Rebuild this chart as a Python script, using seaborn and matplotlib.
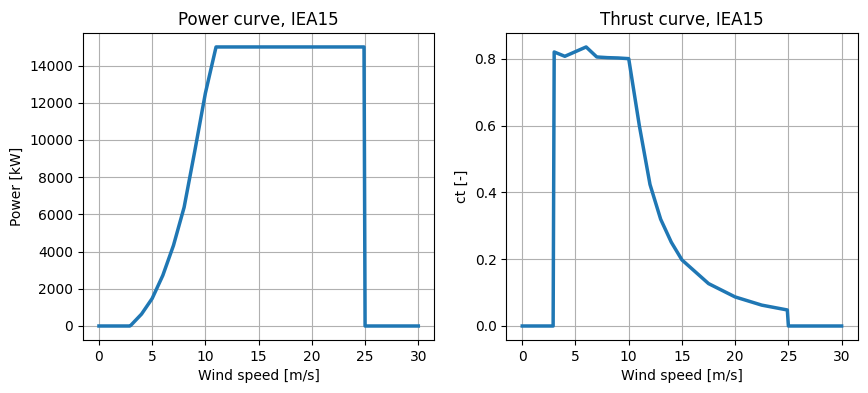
import numpy as np
import pandas as pd
import matplotlib
matplotlib.use("Agg")
import matplotlib.pyplot as plt
import seaborn as sns

# ── Data ───────────────────────────────────────────────────────────────────
WS     = [0, 2.9, 3.0, 4, 5, 6, 7, 8, 9, 10, 11, 12, 13, 14, 15,
          17.5, 20, 22.5, 24.9, 25.0, 30]
POWER  = [0, 0, 40, 640, 1480, 2720, 4330, 6380, 9400, 12520, 15000,
          15000, 15000, 15000, 15000, 15000, 15000, 15000, 15000, 0, 0]
CT     = [0, 0, 0.821, 0.808, 0.822, 0.836, 0.806, 0.804, 0.803, 0.801,
          0.60, 0.424, 0.320, 0.251, 0.198, 0.127, 0.087, 0.0625, 0.048,
          0, 0]

df = pd.DataFrame({"ws": WS, "power": POWER, "ct": CT})

fig, axes = plt.subplots(1, 2, figsize=(8.68, 3.93), dpi=100)
plt.subplots_adjust(left=0.0956, right=0.988, top=0.916, bottom=0.135,
                    wspace=0.205)

# ── Power curve ────────────────────────────────────────────────────────────
ax = axes[0]
sns.lineplot(data=df, x="ws", y="power", ax=ax, estimator=None,
             sort=False, linewidth=2.5, color="#1f77b4")
ax.set_xlabel("Wind speed [m/s]"); ax.set_ylabel("Power [kW]")
ax.set_title("Power curve, IEA15")
ax.grid(True)

# ── Thrust curve ───────────────────────────────────────────────────────────
ax = axes[1]
sns.lineplot(data=df, x="ws", y="ct", ax=ax, estimator=None,
             sort=False, linewidth=2.5, color="#1f77b4")
ax.set_xlabel("Wind speed [m/s]"); ax.set_ylabel("ct [-]")
ax.set_title("Thrust curve, IEA15")
ax.grid(True)

plt.savefig("out.png", dpi=100)
plt.close()
